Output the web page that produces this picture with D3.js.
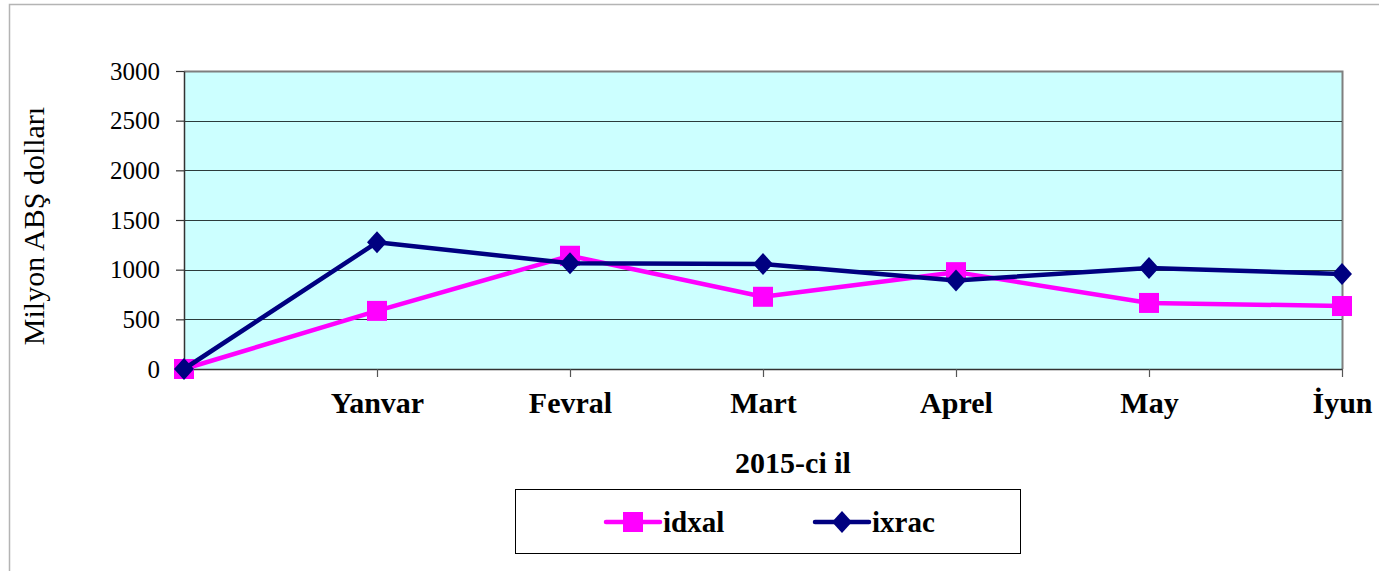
<!DOCTYPE html>
<html>
<head>
<meta charset="utf-8">
<script src="https://cdn.jsdelivr.net/npm/d3@7"></script>
<style>
  body { margin: 0; background: #fff; }
  svg text { font-family: "Liberation Serif", "Times New Roman", serif; fill: #000; }
</style>
</head>
<body>
<svg id="chart" width="1379" height="571"></svg>
<script>
// data
const months = ["", "Yanvar", "Fevral", "Mart", "Aprel", "May", "İyun"];
const idxal = [0, 585, 1140, 727, 975, 665, 634];
const ixrac = [0, 1275, 1065, 1057, 892, 1017, 957];
const yTicks = [0, 500, 1000, 1500, 2000, 2500, 3000];

const svg = d3.select('#chart');
const plot = {left: 184, right: 1342, top: 71, bottom: 369};

// outer frame
svg.append('path')
    .attr('d', `M9.5 571 V4.5 H1379`)
    .attr('fill', 'none').attr('stroke', '#b4b4b4').attr('stroke-width', 1.5);

const x = d3.scalePoint().domain(months).range([plot.left, plot.right]);
const y = d3.scaleLinear().domain([0, 3000]).range([plot.bottom, plot.top]);

// plot bg + shadowed border
svg.append('rect')
    .attr('x', plot.left).attr('y', plot.top)
    .attr('width', plot.right - plot.left).attr('height', plot.bottom - plot.top)
    .attr('fill', '#ccffff');
svg.append('path')
    .attr('d', `M${plot.left} ${plot.top + 0.5} H${plot.right + 0.5} V${plot.bottom}`)
    .attr('fill', 'none').attr('stroke', '#7f7f7f').attr('stroke-width', 2);

// grid
svg.append('g').selectAll('line').data(yTicks.slice(1, -1))
    .join('line')
    .attr('x1', plot.left).attr('x2', plot.right)
    .attr('y1', d => Math.round(y(d)) + 0.5).attr('y2', d => Math.round(y(d)) + 0.5)
    .attr('stroke', '#2b3b3b').attr('stroke-width', 1.2);

// y axis
const yAxis = svg.append('g')
    .attr('transform', `translate(${plot.left},0)`)
    .call(d3.axisLeft(y).tickValues(yTicks).tickFormat(d3.format('d'))
        .tickSize(8).tickPadding(16).tickSizeOuter(0));
yAxis.attr('font-size', null).attr('font-family', null);
yAxis.select('.domain').attr('stroke', '#333').attr('stroke-width', 1.5);
yAxis.selectAll('.tick line').attr('stroke', '#333').attr('stroke-width', 1.2);
yAxis.selectAll('text').style('font-size', '25px').attr('dy', '0.33em');

// x axis
const xAxis = svg.append('g')
    .attr('transform', `translate(0,${plot.bottom})`)
    .call(d3.axisBottom(x).tickSize(8).tickPadding(0).tickSizeOuter(0));
xAxis.attr('font-size', null).attr('font-family', null);
xAxis.select('.domain').attr('stroke', '#333').attr('stroke-width', 1.5);
xAxis.selectAll('.tick line').attr('stroke', '#555').attr('stroke-width', 1.2);
xAxis.selectAll('text').style('font-size', '30px').style('font-weight', 'bold')
    .attr('y', 44).attr('dy', null);

// titles
svg.append('text')
    .attr('transform', 'translate(44,226) rotate(-90)')
    .attr('text-anchor', 'middle').style('font-size', '30px')
    .text('Milyon ABŞ dolları');
svg.append('text')
    .attr('x', 793).attr('y', 473)
    .attr('text-anchor', 'middle').style('font-size', '30px').style('font-weight', 'bold')
    .text('2015-ci il');

// series
const series = [
    {name: 'idxal', values: idxal, color: '#ff00ff', marker: 'square'},
    {name: 'ixrac', values: ixrac, color: '#000080', marker: 'diamond'},
];
const line = d3.line().x((d, i) => x(months[i])).y(d => y(d));

function drawMarker(g, type, color) {
    if (type === 'square') {
        g.append('rect').attr('x', -10).attr('y', -10).attr('width', 20).attr('height', 20)
            .attr('fill', color);
    } else {
        g.append('path').attr('d', 'M0 -11 L10 0 L0 11 L-10 0 Z').attr('fill', color);
    }
}

series.forEach(s => {
    svg.append('path').datum(s.values)
        .attr('d', line)
        .attr('fill', 'none').attr('stroke', s.color).attr('stroke-width', 4.5)
        .attr('stroke-linejoin', 'round');
    s.values.forEach((v, i) => {
        const g = svg.append('g').attr('transform', `translate(${x(months[i])},${y(v)})`);
        drawMarker(g, s.marker, s.color);
    });
});

// legend
const legend = svg.append('g');
legend.append('rect')
    .attr('x', 515.5).attr('y', 489.5).attr('width', 505).attr('height', 64)
    .attr('fill', '#fff').attr('stroke', '#000').attr('stroke-width', 1);
const legendX = [606, 815];
series.forEach((s, i) => {
    const g = legend.append('g').attr('transform', `translate(${legendX[i]},522)`);
    g.append('line').attr('x1', 0).attr('x2', 54).attr('stroke', s.color)
        .attr('stroke-width', 4.5).attr('stroke-linecap', 'round');
    const m = g.append('g').attr('transform', 'translate(27,0)');
    drawMarker(m, s.marker, s.color);
    g.append('text').attr('x', 57).attr('y', 10)
        .style('font-size', '29px').style('font-weight', 'bold').text(s.name);
});
</script>
</body>
</html>
